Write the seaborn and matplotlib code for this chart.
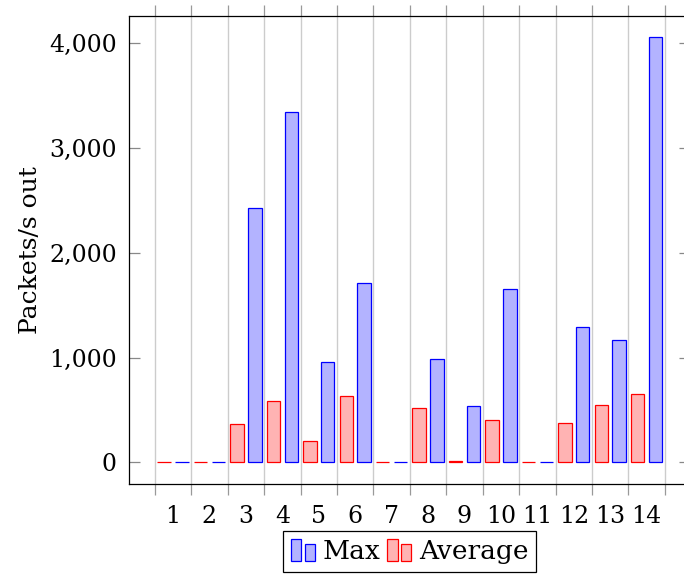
import numpy as np
import pandas as pd
import matplotlib
matplotlib.use("Agg")
import matplotlib.pyplot as plt
import seaborn as sns
from matplotlib.patches import Patch, Rectangle
from matplotlib.legend_handler import HandlerBase
from matplotlib.ticker import FuncFormatter, FixedLocator

# values
cells = [str(i) for i in range(1, 15)]
max_out = [0, 0, 2432, 3345, 963, 1717, 0, 989, 534, 1657, 5, 1291, 1164, 4055]
avg_out = [0, 0, 366, 585, 204, 630, 0, 515, 18, 401, 0, 372, 547, 652]
y_ticks = [0, 1000, 2000, 3000, 4000]

series_colors = {"Average": ("#ffb3b3", "#ff0000"), "Max": ("#b3b3ff", "#0000ff")}

df = pd.DataFrame({
    "cell": cells * 2,
    "series": ["Average"] * len(cells) + ["Max"] * len(cells),
    "value": avg_out + max_out,
})


class BarPairHandler(HandlerBase):
    # pgfplots style legend icon: two little bars
    def create_artists(self, legend, orig_handle, xdescent, ydescent,
                       width, height, fontsize, trans):
        fc = orig_handle.get_facecolor()
        ec = orig_handle.get_edgecolor()
        w = width * 0.43
        r1 = Rectangle((-xdescent, -ydescent), w, height,
                       facecolor=fc, edgecolor=ec, lw=0.9, transform=trans)
        r2 = Rectangle((-xdescent + width * 0.57, -ydescent), w, height * 0.76,
                       facecolor=fc, edgecolor=ec, lw=0.9, transform=trans)
        return [r1, r2]


sns.set_style("white")
plt.rcParams["font.family"] = ["DejaVu Serif"]
plt.rcParams["font.size"] = 17
plt.rcParams["text.color"] = "black"
plt.rcParams["axes.labelcolor"] = "black"
plt.rcParams["xtick.labelcolor"] = "black"
plt.rcParams["ytick.labelcolor"] = "black"

fig = plt.figure(figsize=(6.84, 5.76), dpi=100)
ax = fig.add_axes([0.18904, 0.16024, 0.8203, 0.8125])

sns.barplot(data=df, x="cell", y="value", hue="series", order=cells,
            hue_order=["Average", "Max"],
            palette={k: v[0] for k, v in series_colors.items()},
            saturation=1, width=0.98, gap=0.245, ax=ax, legend=False)

for cont, name in zip(ax.containers, ["Average", "Max"]):
    for bar in cont:
        bar.set_edgecolor(series_colors[name][1])
        bar.set_linewidth(0.9)

ax.set_xlim(-1.2, 14.2)
ax.set_ylim(-203, 4263)

# labels at cell centres, grid + outward ticks at cell borders
ax.xaxis.set_major_locator(FixedLocator(range(len(cells))))
ax.set_xticklabels(cells)
ax.xaxis.set_minor_locator(FixedLocator(np.arange(-0.5, len(cells), 1.0)))
ax.tick_params(axis="x", which="major", length=0, pad=15, labelsize=17,
               labelcolor="black")
ax.tick_params(axis="x", which="minor", direction="out", length=8,
               width=0.9, color="#999999", top=True, bottom=True)
ax.grid(True, axis="x", which="minor", color="#cccccc", lw=1.0)
ax.grid(False, axis="x", which="major")
ax.set_axisbelow(True)

ax.set_yticks(y_ticks)
ax.yaxis.set_major_formatter(FuncFormatter(lambda v, p: f"{int(v):,}"))
ax.tick_params(axis="y", direction="in", length=8, width=0.9, color="#888888",
               left=True, right=True, pad=9, labelsize=17, labelcolor="black")

for s in ax.spines.values():
    s.set_color("black")
    s.set_linewidth(0.9)

ax.set_xlabel("")
ax.set_ylabel("Packets/s out", fontsize=18, color="black")
ax.yaxis.set_label_coords(-0.155, 0.5)

handles = [Patch(facecolor=series_colors["Max"][0], edgecolor=series_colors["Max"][1]),
           Patch(facecolor=series_colors["Average"][0], edgecolor=series_colors["Average"][1])]
leg = ax.legend(handles, ["Max", "Average"], handler_map={Patch: BarPairHandler()},
                loc="upper center", bbox_to_anchor=(0.5, -0.101), ncol=2,
                frameon=True, fancybox=False, edgecolor="black", framealpha=1,
                borderaxespad=0, handlelength=0.9, handleheight=0.9,
                handletextpad=0.3, columnspacing=0.25, borderpad=0.3,
                fontsize=19, labelcolor="black")
leg.get_frame().set_linewidth(0.9)

fig.savefig("out.png", dpi=100)
